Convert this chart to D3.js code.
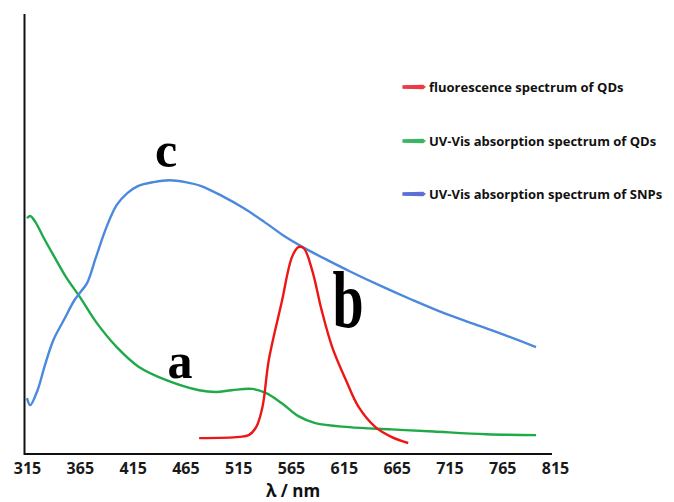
<!DOCTYPE html>
<html>
  <head>
    <meta charset="utf-8">
    <title>Spectra of QDs and SNPs</title>
    <script src="https://d3js.org/d3.v7.min.js"></script>
    <style>
        body { margin: 0; background: #fff; }
        .tick text {
        font: bold 16px "Open Sans", sans-serif;
        fill: #1a1a1a;
        }
        .frame {
        fill: none;
        stroke: #111;
        stroke-width: 2px;
        }
        .legend text {
        font: bold 13px "Open Sans", sans-serif;
        fill: #111;
        }
        .tag {
        font-family: "Liberation Serif", "DejaVu Serif", serif;
        font-weight: bold;
        fill: #000;
        }
    </style>
  </head>
  <body>
    <svg width="674" height="502"></svg>
    <script>
        // a: UV-Vis absorption spectrum of QDs (green)
        const qdAbsWl = [315, 318, 323, 330, 340, 352, 365, 381, 400, 421, 447, 478, 494, 509, 528, 541, 556, 572, 588, 620, 660, 700, 750, 797];
        const qdAbs   = [0.536, 0.541, 0.527, 0.495, 0.452, 0.402, 0.357, 0.298, 0.243, 0.198, 0.168, 0.145, 0.141, 0.145, 0.148, 0.139, 0.116, 0.086, 0.070, 0.061, 0.056, 0.051, 0.045, 0.043];

        // b: fluorescence spectrum of QDs (red)
        const qdFlWl = [478, 516, 525, 532, 538, 544, 556, 566, 572, 577, 585, 594, 604, 617, 629, 645, 660, 676];
        const qdFl   = [0.036, 0.039, 0.043, 0.061, 0.107, 0.214, 0.343, 0.448, 0.470, 0.468, 0.418, 0.327, 0.243, 0.168, 0.107, 0.061, 0.039, 0.025];

        // c: UV-Vis absorption spectrum of SNPs (blue)
        const snpAbsWl = [315, 318, 325, 332, 340, 350, 360, 365, 372, 380, 390, 400, 410, 420, 435, 450, 465, 480, 500, 520, 540, 560, 580, 600, 620, 650, 680, 710, 740, 770, 797];
        const snpAbs   = [0.127, 0.111, 0.145, 0.202, 0.259, 0.305, 0.350, 0.366, 0.389, 0.445, 0.514, 0.566, 0.593, 0.609, 0.618, 0.622, 0.618, 0.609, 0.586, 0.559, 0.527, 0.493, 0.465, 0.440, 0.416, 0.382, 0.350, 0.320, 0.294, 0.268, 0.243];

        const xTicks = [315, 365, 415, 465, 515, 565, 615, 665, 715, 765, 815];
        const legendLabels = ["fluorescence spectrum of QDs", "UV-Vis absorption spectrum of QDs", "UV-Vis absorption spectrum of SNPs"];
        const legendColors = ["#ec3a44", "#3db562", "#5d6fd6"];

        const svg = d3.select("svg");

        const x = d3.scaleLinear().domain([315, 815]).range([27, 555]);
        const y = d3.scaleLinear().domain([0, 1]).range([454, 14]);

        // axes frame (no y ticks in the original)
        svg.append("path")
            .attr("class", "frame")
            .attr("d", `M${x(315) - 2.5},${y(1)}V${y(0)}H${x(815) - 3}`);

        svg.append("g")
            .attr("transform", `translate(0,${y(0)})`)
            .call(d3.axisBottom(x).tickValues(xTicks).tickSize(0).tickPadding(9).tickFormat(d3.format("d")))
            .call(g => g.select(".domain").remove());

        svg.append("text")
            .attr("x", 293)
            .attr("y", 497)
            .attr("text-anchor", "middle")
            .style("font", "bold 17px 'Open Sans', sans-serif")
            .style("fill", "#111")
            .text("λ / nm");

        const line = d3.line()
            .x(d => x(d[0]))
            .y(d => y(d[1]))
            .curve(d3.curveCatmullRom.alpha(0.5));

        const series = [
            {wl: qdAbsWl, v: qdAbs, color: "#1eaa48"},
            {wl: snpAbsWl, v: snpAbs, color: "#4b89dc"},
            {wl: qdFlWl, v: qdFl, color: "#ee1515"}
        ];

        series.forEach(s => {
            svg.append("path")
                .datum(d3.zip(s.wl, s.v))
                .attr("d", line)
                .style("fill", "none")
                .style("stroke", s.color)
                .style("stroke-width", 2.4)
                .style("stroke-linejoin", "round");
        });

        // curve tags
        svg.append("text").attr("class", "tag")
            .attr("x", 166).attr("y", 167)
            .attr("text-anchor", "middle")
            .style("font-size", "50px")
            .text("c");

        svg.append("text").attr("class", "tag")
            .attr("x", 180).attr("y", 378)
            .attr("text-anchor", "middle")
            .style("font-size", "50px")
            .text("a");

        svg.append("text").attr("class", "tag")
            .attr("transform", "translate(348,327) scale(0.7,1)")
            .attr("text-anchor", "middle")
            .style("font-size", "80px")
            .text("b");

        // legend
        const legendY = [87, 141, 194];
        const legend = svg.selectAll(".legend")
            .data(legendLabels)
            .enter().append("g")
            .attr("class", "legend")
            .attr("transform", (d, i) => `translate(403,${legendY[i]})`);

        legend.append("path")
            .attr("d", "M0,-1.2L20,-1.6L22,0L20,1.6L0,1.2Z")
            .style("fill", (d, i) => legendColors[i])
            .style("stroke", (d, i) => legendColors[i])
            .style("stroke-width", 1.2);

        legend.append("text")
            .attr("x", 26)
            .attr("dy", "0.35em")
            .text(d => d);
    </script>
  </body>
</html>
